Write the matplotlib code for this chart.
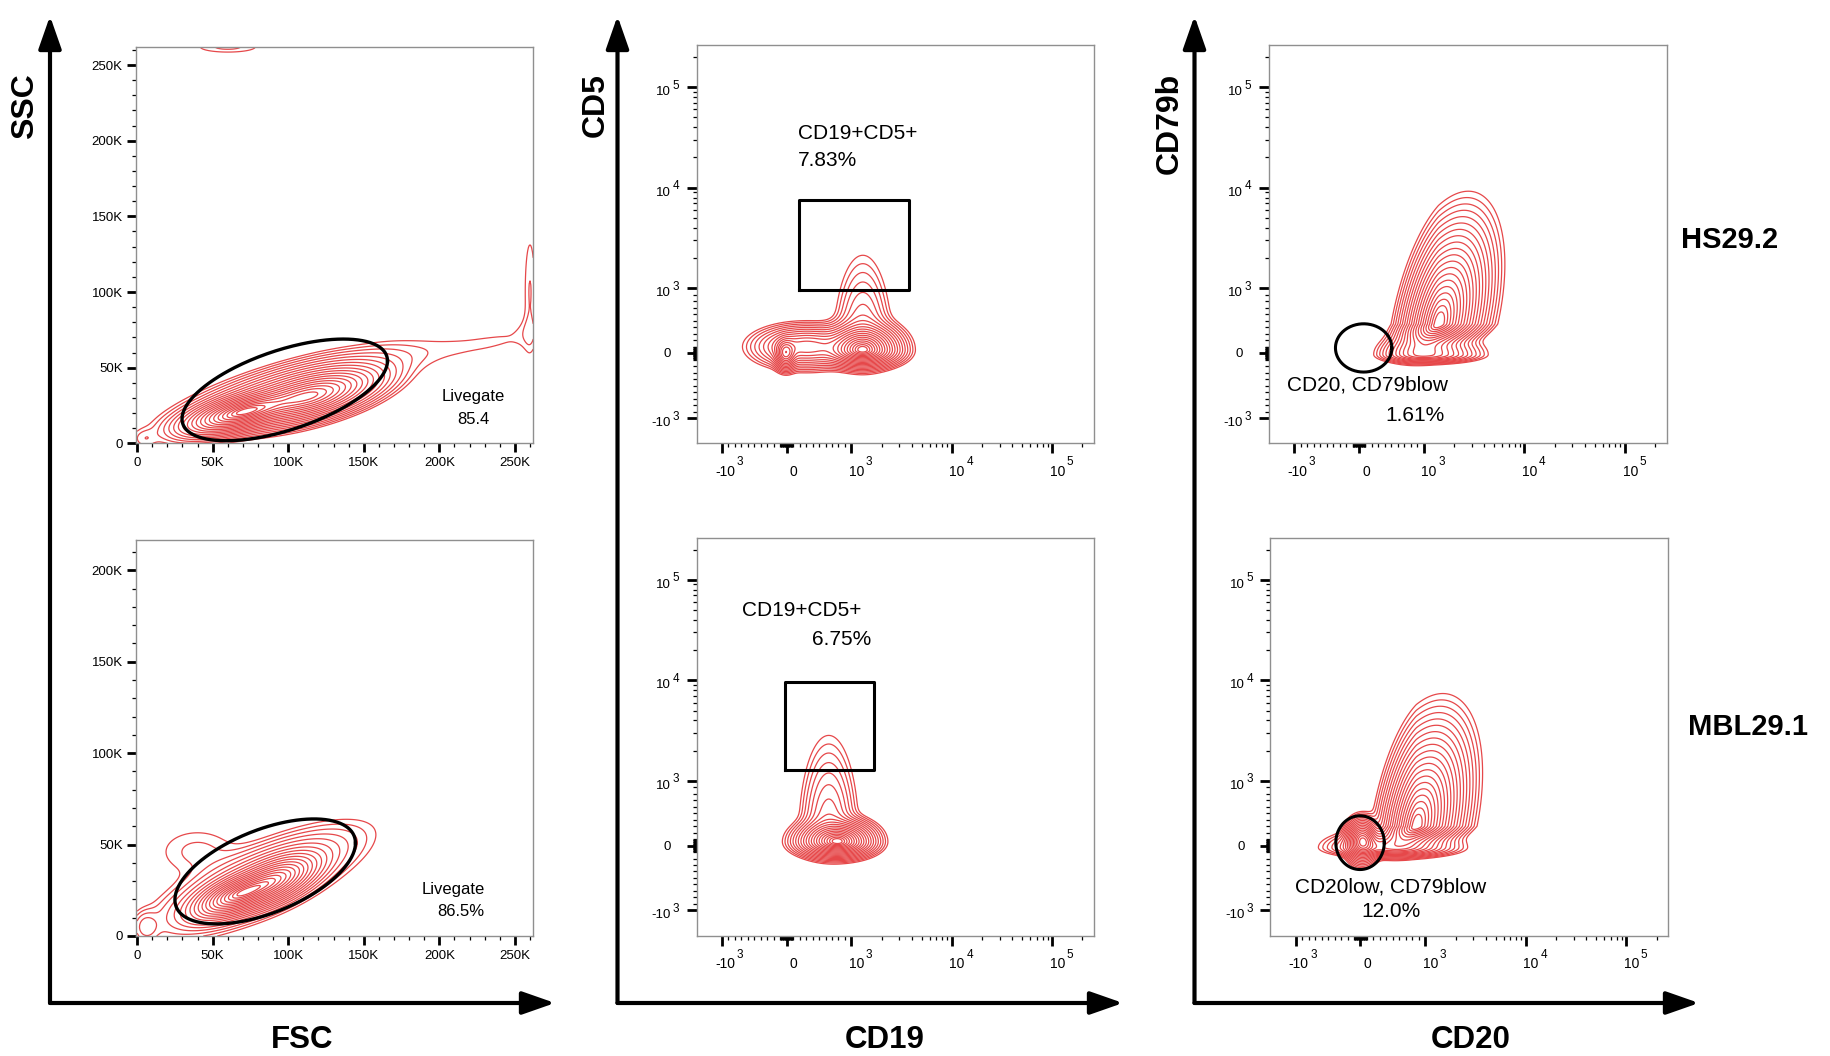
import numpy as np
import matplotlib.pyplot as plt
from matplotlib.patches import FancyArrowPatch
from matplotlib.scale import SymmetricalLogTransform
from matplotlib.ticker import FixedLocator, NullFormatter

plt.rcParams['font.family'] = ['Liberation Sans', 'DejaVu Sans']

# -----------------------------
# Data (populations)
# row: centre x, centre y, spread left, spread right, spread down, spread up, corr, peak
# FSC/SSC in thousands, fluorescence centres in raw units with spreads in decades
# -----------------------------
hs_scatter = [
    [68, 20, 17, 17, 6.5, 6.5, 0.6, 1.0],
    [115, 31, 21, 21, 8.5, 8.5, 0.6, 0.9],
    [97, 33, 32, 32, 12, 12, 0.75, 0.22],
    [170, 57, 12, 12, 7, 7, 0.0, 0.004],
    [190, 60, 12, 12, 7, 7, 0.0, 0.004],
    [210, 63, 12, 12, 7, 7, 0.0, 0.004],
    [230, 66, 12, 12, 7, 7, 0.0, 0.004],
    [250, 70, 12, 12, 7, 7, 0.0, 0.004],
    [258, 74, 5, 5, 7, 7, 0.0, 0.004],
    [260, 100, 3, 3, 30, 30, 0.0, 0.009],
    [5, 3, 5, 5, 4, 4, 0.0, 0.01],
    [60, 262, 16, 16, 3, 3, 0.0, 0.01],
]
mbl_scatter = [
    [65, 22, 13, 13, 6, 6, 0.6, 1.0],
    [90, 30, 14, 14, 7, 7, 0.6, 0.9],
    [80, 30, 30, 30, 13, 13, 0.75, 0.18],
    [6, 5, 5, 5, 5, 5, 0.0, 0.03],
    [40, 46, 18, 18, 9, 9, 0.0, 0.012],
]
hs_cd19_cd5 = [
    [1300, 50, 0.16, 0.16, 0.07, 0.11, 0.0, 1.0],
    [-15, 0, 0.05, 0.05, 0.07, 0.07, 0.0, 0.45],
    [300, 100, 0.22, 0.22, 0.09, 0.09, 0.0, 0.3],
    [1300, 80, 0.12, 0.12, 0.1, 0.38, 0.0, 0.09],
]
mbl_cd19_cd5 = [
    [800, 60, 0.17, 0.15, 0.066, 0.09, 0.0, 1.0],
    [650, 160, 0.12, 0.12, 0.1, 0.4, 0.0, 0.1],
]
hs_cd20_cd79b = [
    [1400, 450, 0.16, 0.2, 0.12, 0.4, 0.45, 1.0],
    [1000, -20, 0.17, 0.22, 0.035, 0.08, 0.0, 0.3],
]
mbl_cd20_cd79b = [
    [860, 300, 0.15, 0.2, 0.1, 0.4, 0.4, 1.0],
    [30, 80, 0.07, 0.07, 0.09, 0.09, 0.0, 0.7],
    [500, -30, 0.25, 0.25, 0.04, 0.07, 0.0, 0.35],
]

# gates
hs_live_gate = [97.7, 68, 35.3, 33.6, np.arccos(0.57)]    # cx, rx, cy, ry, phase (K)
mbl_live_gate = [84.75, 59.75, 35.3, 28.7, np.arccos(0.54)]
hs_cd5_gate = [186, 3735, 975, 7540]                        # x0, x1, y0, y1
mbl_cd5_gate = [-30, 1690, 1280, 9700]
hs_low_gate = [72, 435, 82, 372]                            # cx, rx, cy, ry
mbl_low_gate = [-7, 374, 45, 415]

contour_fracs = list(np.exp(-0.5 * np.linspace(3.3, 0.3, 20) ** 2))

# -----------------------------
# Figure helpers
# -----------------------------
W, H = 1831, 1056
fig = plt.figure(figsize=(W / 100, H / 100), dpi=100)
RED = '#e6484a'
LINSCALE = 0.58
T = SymmetricalLogTransform(10, 1000, LINSCALE)
Ti = T.inverted()
LO, HI = -1780, 262144


def fwd(v):
    a = np.asarray(v, float)
    return T.transform_non_affine(a.reshape(-1)).reshape(a.shape) / 1000.0


def inv(u):
    a = np.asarray(u, float)
    return Ti.transform_non_affine(a.reshape(-1) * 1000.0).reshape(a.shape)


def ax_at(l, t, r, b):
    return fig.add_axes([l / W, 1 - b / H, (r - l) / W, (b - t) / H])


def density(U, V, comps, conv):
    Z = np.zeros_like(U)
    for cx, cy, sxl, sxr, syl, syu, rho, w in comps:
        dx = U - conv(cx)
        dy = V - conv(cy)
        dx = dx / np.where(dx < 0, sxl, sxr)
        dy = dy / np.where(dy < 0, syl, syu)
        Z += w * np.exp(-(dx ** 2 - 2 * rho * dx * dy + dy ** 2) / (2 * (1 - rho ** 2)))
    return Z


def style(ax):
    for s in ax.spines.values():
        s.set_color('#8f8f8f')
        s.set_linewidth(1.0)
    ax.tick_params(which='both', direction='out', color='black', top=False, right=False)
    ax.tick_params(which='major', length=6.8, width=2.0, labelsize=9.5, pad=3)
    ax.tick_params(which='minor', length=3.2, width=0.9)


def scatter_panel(rect, comps, ymax, gate, txt, txt_xy):
    ax = ax_at(*rect)
    xs = np.linspace(0, 262.144, 500)
    ys = np.linspace(0, ymax / 1000, 500)
    U, V = np.meshgrid(xs, ys)
    Z = density(U, V, comps, lambda v: v)
    ax.contour(U * 1000, V * 1000, Z, [f * Z.max() for f in contour_fracs],
               colors=RED, linewidths=0.9)
    cx, rx, cy, ry, ph = gate
    t = np.linspace(0, 2 * np.pi, 300)
    ax.plot((cx + rx * np.cos(t)) * 1000, (cy + ry * np.cos(t - ph)) * 1000,
            color='black', lw=2.4)
    ax.set_xlim(-500, 262144)
    ax.set_ylim(0, ymax)
    ticks = np.arange(0, 250001, 50000)
    lab = ['0'] + ['%dK' % (v // 1000) for v in ticks[1:]]
    ax.set_xticks(ticks, lab)
    yt = ticks[ticks < ymax]
    ax.set_yticks(yt, lab[:len(yt)])
    ax.xaxis.set_minor_locator(FixedLocator(np.arange(0, 262144, 10000)))
    ax.yaxis.set_minor_locator(FixedLocator(np.arange(0, ymax, 10000)))
    style(ax)
    for s, (x, y) in zip(txt, txt_xy):
        fig.text(x / W, 1 - y / H, s, ha='center', va='center', fontsize=12)
    return ax


major_vals = [-1e3, 0, 1e3, 1e4, 1e5]
major_base = ['-10', '0', '10', '10', '10']
major_exp = ['3', '', '3', '4', '5']
minor_vals = (list(range(-900, 0, 100)) + list(range(-90, 0, 10)) + list(range(10, 100, 10))
              + list(range(100, 1000, 100)) + list(range(2000, 10000, 1000))
              + list(range(20000, 100000, 10000)) + [200000])


def log_labels(ax):
    for axis in (ax.xaxis, ax.yaxis):
        axis.set_major_locator(FixedLocator(major_vals))
        axis.set_major_formatter(NullFormatter())
        axis.set_minor_locator(FixedLocator(minor_vals))
    kw = dict(textcoords='offset pixels', annotation_clip=False, va='center')
    xt = ax.get_xaxis_transform()
    yt = ax.get_yaxis_transform()
    for v, b, e in zip(major_vals, major_base, major_exp):
        if e:
            ax.annotate(b, (v, 0), xycoords=xt, xytext=(13, -29), ha='right', fontsize=10, **kw)
            ax.annotate(e, (v, 0), xycoords=xt, xytext=(14.5, -19), ha='left', fontsize=8.5, **kw)
            ax.annotate(b, (0, v), xycoords=yt, xytext=(-26, -5), ha='right', fontsize=9.5, **kw)
            ax.annotate(e, (0, v), xycoords=yt, xytext=(-17.5, 1.5), ha='right', fontsize=8.5, **kw)
        else:
            ax.annotate(b, (v, 0), xycoords=xt, xytext=(7, -29), ha='center', fontsize=10, **kw)
            ax.annotate(b, (0, v), xycoords=yt, xytext=(-26, -1), ha='right', fontsize=9.5, **kw)


def fluor_panel(rect, comps):
    ax = ax_at(*rect)
    ax.set_xscale('symlog', linthresh=1000, linscale=LINSCALE)
    ax.set_yscale('symlog', linthresh=1000, linscale=LINSCALE)
    ug = np.linspace(fwd(LO), fwd(HI), 500)
    U, V = np.meshgrid(ug, ug)
    Z = density(U, V, comps, fwd)
    ax.contour(inv(U), inv(V), Z, [f * Z.max() for f in contour_fracs],
               colors=RED, linewidths=0.9)
    ax.set_xlim(LO, HI)
    ax.set_ylim(LO, HI)
    log_labels(ax)
    style(ax)
    ax.tick_params(which='major', length=7.2)
    return ax


# -----------------------------
# Column 1: FSC / SSC
# -----------------------------
scatter_panel((136.4, 46.7, 533.2, 443.3), hs_scatter, 262144, hs_live_gate,
              ['Livegate', '85.4'], [(473.2, 396.7), (473.2, 419.3)])
scatter_panel((136.4, 539.5, 533.2, 936), mbl_scatter, 216800, mbl_live_gate,
              ['Livegate', '86.5%'], [(452.8, 889.1), (460.7, 911.4)])

# -----------------------------
# Column 2: CD19 / CD5
# -----------------------------
for rect, comps, gate, txt, pos in [
        ((696.8, 45, 1094.3, 443.3), hs_cd19_cd5, hs_cd5_gate,
         ['CD19+CD5+', '7.83%'], [(797.8, 133.3), (797.8, 161)]),
        ((696.8, 537.8, 1094.3, 935.5), mbl_cd19_cd5, mbl_cd5_gate,
         ['CD19+CD5+', '6.75%'], [(742.5, 610.6), (812.1, 639.6)])]:
    ax = fluor_panel(rect, comps)
    x0, x1, y0, y1 = gate
    ax.plot([x0, x1, x1, x0, x0], [y0, y0, y1, y1, y0], color='black', lw=2.2)
    for s, (x, y) in zip(txt, pos):
        fig.text(x / W, 1 - y / H, s, ha='left', va='center', fontsize=15)

# -----------------------------
# Column 3: CD20 / CD79b
# -----------------------------
t = np.linspace(0, 2 * np.pi, 300)
for rect, comps, gate, txt, pos, ha in [
        ((1269, 45, 1667, 443.3), hs_cd20_cd79b, hs_low_gate,
         ['CD20, CD79blow', '1.61%'], [(1286.8, 385), (1414.9, 415)], ['left', 'center']),
        ((1270.5, 537.8, 1668.5, 935.5), mbl_cd20_cd79b, mbl_low_gate,
         ['CD20low, CD79blow', '12.0%'], [(1295.5, 887.4), (1391, 911.4)], ['left', 'center'])]:
    ax = fluor_panel(rect, comps)
    cx, rx, cy, ry = gate
    ax.plot(cx + rx * np.cos(t), cy + ry * np.sin(t), color='black', lw=2.2)
    for s, (x, y), h in zip(txt, pos, ha):
        fig.text(x / W, 1 - y / H, s, ha=h, va='center', fontsize=15)

fig.text(1730 / W, 1 - 240 / H, 'HS29.2', ha='center', va='center',
         fontsize=21, fontweight='bold')
fig.text(1748 / W, 1 - 727 / H, 'MBL29.1', ha='center', va='center',
         fontsize=21, fontweight='bold')

# -----------------------------
# Big axis arrows and labels
# -----------------------------
def arrow(p0, p1):
    a = FancyArrowPatch((p0[0] / W, 1 - p0[1] / H), (p1[0] / W, 1 - p1[1] / H),
                        transform=fig.transFigure, arrowstyle='-|>,head_length=1.0,head_width=0.35',
                        mutation_scale=20, lw=3, color='black', shrinkA=0, shrinkB=0)
    fig.add_artist(a)


for xv, xend, ylab, ylab_x, xlab, xlab_x in [(50, 555, 'SSC', 25, 'FSC', 302),
                                             (617.5, 1123, 'CD5', 596, 'CD19', 885),
                                             (1194.5, 1699, 'CD79b', 1169.5, 'CD20', 1471)]:
    arrow((xv, 1003), (xv, 16))
    arrow((xv, 1003), (xend, 1003))
    fig.text(ylab_x / W, 1 - 73 / H, ylab, rotation=90, ha='center', va='top',
             fontsize=23, fontweight='bold')
    fig.text(xlab_x / W, 1 - 1040 / H, xlab, ha='center', va='center',
             fontsize=22.5, fontweight='bold')

fig.savefig('out.png', dpi=100, facecolor='white')
